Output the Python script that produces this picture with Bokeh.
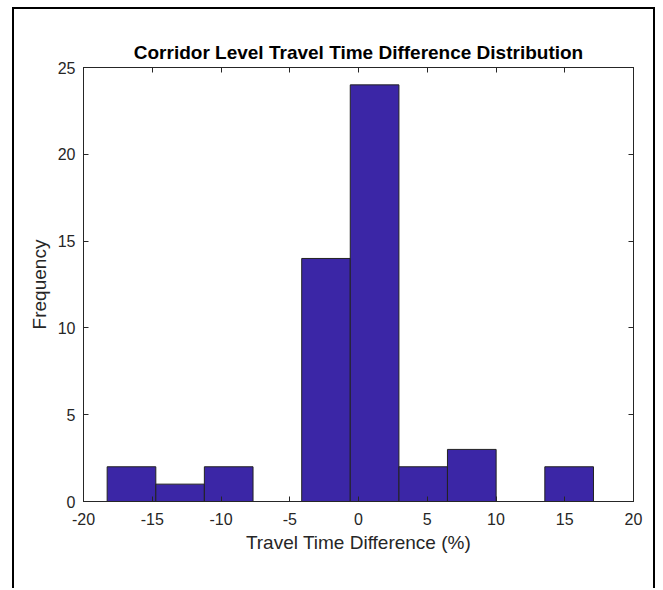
from bokeh.plotting import figure
from bokeh.models import LinearAxis, FixedTicker
from bokeh.embed import file_html
from bokeh.resources import INLINE

# Data
bin_edges = [-18.28, -14.74, -11.21, -7.67, -4.13, -0.60, 2.94, 6.47, 10.01, 13.55, 17.09]
counts = [2, 1, 2, 0, 14, 24, 2, 3, 0, 2]
x_ticks = [-20, -15, -10, -5, 0, 5, 10, 15, 20]
x_tick_labels = ["-20", "-15", "-10", "-5", "0", "5", "10", "15", "20"]
y_ticks = [0, 5, 10, 15, 20, 25]
y_tick_labels = ["0", "5", "10", "15", "20", "25"]

FONT = "Liberation Sans"
AX = "#262626"

p = figure(width=643, height=581, x_range=(-20, 20), y_range=(0, 25),
           output_backend="svg", toolbar_location=None,
           title="Corridor Level Travel Time Difference Distribution",
           min_border_left=69, min_border_right=24, min_border_top=58, min_border_bottom=89,
           margin=(7, 0, 0, 12),
           styles={"border-left": "2px solid black", "border-right": "2px solid black",
                   "border-top": "2px solid black"})
p.background_fill_color = "white"
p.border_fill_color = "white"
p.outline_line_color = AX
p.outline_line_width = 1
p.grid.visible = False

p.title.align = "center"
p.title.text_font = FONT
p.title.text_font_size = "19px"
p.title.text_font_style = "bold"
p.title.text_color = "black"
p.title.standoff = 10

p.quad(left=bin_edges[:-1], right=bin_edges[1:], bottom=0, top=counts,
       fill_color="#3B26A6", line_color="#222222", line_width=1)

def style(ax, ticks, labels=None):
    ax.ticker = FixedTicker(ticks=ticks)
    ax.major_tick_in = 5
    ax.major_tick_out = 0
    ax.minor_tick_line_color = None
    ax.axis_line_color = AX
    ax.major_tick_line_color = AX
    ax.major_label_text_font = FONT
    ax.axis_label_text_font = FONT
    ax.axis_label_text_font_style = "normal"
    ax.axis_label_text_color = AX
    if labels is not None:
        ax.major_label_overrides = dict(zip(ticks, labels))
        ax.major_label_text_color = AX
        ax.major_label_text_font_size = "16px"
    else:
        ax.major_label_text_color = None
        ax.major_label_text_font_size = "1px"
        ax.major_label_standoff = 0

style(p.xaxis[0], x_ticks, x_tick_labels)
style(p.yaxis[0], y_ticks, y_tick_labels)
p.xaxis[0].axis_label = "Travel Time Difference (%)"
p.yaxis[0].axis_label = "Frequency"
p.xaxis[0].axis_label_text_font_size = "19px"
p.yaxis[0].axis_label_text_font_size = "19px"
p.xaxis[0].major_label_standoff = 11
p.xaxis[0].axis_label_standoff = 4
p.yaxis[0].major_label_standoff = 8
p.yaxis[0].axis_label_standoff = 5

top_ax = LinearAxis()
right_ax = LinearAxis()
style(top_ax, x_ticks)
style(right_ax, y_ticks)
p.add_layout(top_ax, "above")
p.add_layout(right_ax, "right")

open("out.html", "w").write(file_html(p, INLINE))
